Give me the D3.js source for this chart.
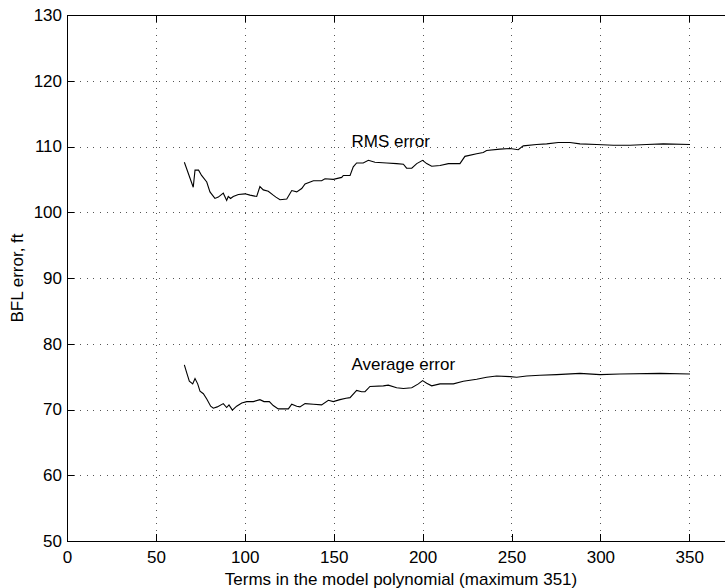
<!DOCTYPE html>
<html lang="en">
<head>
    <meta charset="UTF-8">
    <title>BFL error vs terms in the model polynomial</title>
    <script src="https://d3js.org/d3.v7.min.js"></script>
    <style>
        body {
            margin: 0;
            background-color: #fff;
            font-family: "Liberation Sans", Arial, Helvetica, sans-serif;
        }
        svg {
            display: block;
        }
        .axis text {
            font-size: 17px;
            fill: #000;
        }
        .axis path, .axis line {
            stroke: #000;
            shape-rendering: crispEdges;
        }
        .grid line {
            stroke: #555;
            stroke-dasharray: 1, 5.6;
            shape-rendering: crispEdges;
        }
        .curve {
            fill: none;
            stroke: #000;
            stroke-width: 1.1;
        }
        .label {
            font-size: 17px;
            fill: #000;
        }
    </style>
</head>
<body>
    <div id="chart"></div>

    <script>
        // Tick values (the x axis runs on to 400, past the right edge of the picture)
        const xTicks = [0, 50, 100, 150, 200, 250, 300, 350];
        const yTicks = [50, 60, 70, 80, 90, 100, 110, 120, 130];

        // RMS error curve (terms, error in ft)
        const rmsTerms = [66, 71, 72, 74, 75.7, 78.6, 80.4, 83.2, 85.1, 87.9, 89.8, 90.7, 92, 93.5, 96.4,
            100.1, 102.9, 106.7, 108.5, 110.4, 113.2, 116, 117.5, 119.8, 123.6, 126.4, 129.2, 132, 133.9,
            138.6, 143.2, 145.1, 149.8, 154.5, 155.4, 159.2, 161, 162.9, 166.6, 169.5, 173.2, 179.8, 185.4,
            189.2, 191, 193.9, 196.7, 200, 202.3, 205.1, 209.8, 214.5, 221, 223.8, 230.4, 234.1, 236, 243.5,
            249.2, 253.8, 256.6, 264.1, 269.8, 276.3, 282.9, 288.5, 297.9, 307.3, 316.7, 326, 335.4, 350.4];
        const rmsError = [107.6, 103.8, 106.4, 106.4, 105.6, 104.6, 103.1, 102.1, 102.3, 102.9, 101.8, 102.4, 102.1, 102.4, 102.7,
            102.8, 102.6, 102.4, 103.9, 103.4, 103.2, 102.6, 102.3, 101.9, 102.0, 103.3, 103.1, 103.6, 104.3,
            104.8, 104.8, 105.1, 105.0, 105.3, 105.6, 105.6, 106.9, 107.5, 107.5, 107.9, 107.6, 107.5, 107.4,
            107.3, 106.7, 106.7, 107.4, 107.9, 107.4, 107.0, 107.1, 107.4, 107.4, 108.5, 108.9, 109.1, 109.4, 109.6,
            109.7, 109.5, 110.1, 110.3, 110.4, 110.6, 110.6, 110.4, 110.3, 110.2, 110.2, 110.3, 110.4, 110.3];

        // Average error curve (terms, error in ft)
        const avgTerms = [66, 67.3, 68.8, 70.7, 72, 73.5, 74.8, 76.7, 78.6, 80.8, 82.3, 84.5, 87.9, 89.8, 91.1,
            93, 95.4, 98.3, 101.1, 104.8, 108.5, 110.8, 113.8, 116, 118.8, 124.5, 126.4, 129.2, 131, 133.9,
            138.6, 143.2, 147, 149.8, 153.5, 156.9, 159.2, 162.9, 165.7, 167.6, 170.4, 177.9, 180.7, 185.4,
            189.2, 193.9, 197.6, 200, 202.3, 205.1, 209.8, 217.3, 222.9, 230.4, 236, 241.6, 249.2, 252.9,
            258.5, 266, 275.4, 288.5, 299.8, 311, 333.5, 350.4];
        const avgError = [76.8, 75.6, 74.3, 73.9, 74.7, 73.9, 72.8, 72.4, 71.6, 70.5, 70.2, 70.4, 70.9, 70.3, 70.7,
            69.9, 70.5, 71.0, 71.2, 71.2, 71.5, 71.2, 71.2, 70.6, 70.1, 70.1, 70.8, 70.5, 70.4, 70.9,
            70.8, 70.7, 71.4, 71.2, 71.5, 71.7, 71.8, 72.9, 72.7, 72.7, 73.5, 73.6, 73.7, 73.3,
            73.2, 73.3, 73.9, 74.4, 74.0, 73.6, 73.9, 73.9, 74.3, 74.6, 74.9, 75.1, 75.0, 74.9,
            75.1, 75.2, 75.3, 75.5, 75.3, 75.4, 75.5, 75.4];

        // Curve labels
        const labels = [
            { text: "RMS error", x: 160, y: 110 },
            { text: "Average error", x: 160, y: 76 }
        ];

        // Canvas and plot box (right side of the box falls outside the picture)
        const W = 725, H = 588;
        const plotLeft = 67, plotTop = 15, plotBottom = 541;
        const plotRight = plotLeft + 400 * (622.3 / 350);

        const svg = d3.select("#chart")
            .append("svg")
            .attr("width", W)
            .attr("height", H);

        const x = d3.scaleLinear().domain([0, 400]).range([plotLeft, plotRight]);
        const y = d3.scaleLinear().domain([50, 130]).range([plotBottom, plotTop]);

        // Dotted grid
        const grid = svg.append("g").attr("class", "grid");
        grid.selectAll(".gx")
            .data(xTicks.slice(1))
            .enter().append("line")
            .attr("x1", d => Math.round(x(d)) + 0.5)
            .attr("x2", d => Math.round(x(d)) + 0.5)
            .attr("y1", plotTop)
            .attr("y2", plotBottom);
        grid.selectAll(".gy")
            .data(yTicks.slice(1, -1))
            .enter().append("line")
            .attr("x1", plotLeft)
            .attr("x2", W)
            .attr("y1", d => Math.round(y(d)) + 0.5)
            .attr("y2", d => Math.round(y(d)) + 0.5);

        // Axes, ticks pointing inward; domain lines run off the right edge
        const xAxis = svg.append("g")
            .attr("class", "axis")
            .attr("transform", `translate(0,${plotBottom})`)
            .call(d3.axisBottom(x).tickValues(xTicks).tickSizeInner(-7).tickSizeOuter(0).tickPadding(10));

        svg.append("g")
            .attr("class", "axis")
            .attr("transform", `translate(0,${plotTop})`)
            .call(d3.axisTop(x).tickValues(xTicks).tickSizeInner(-7).tickSizeOuter(0).tickFormat(""));

        svg.append("g")
            .attr("class", "axis")
            .attr("transform", `translate(${plotLeft},0)`)
            .call(d3.axisLeft(y).tickValues(yTicks).tickSizeInner(-7).tickSizeOuter(0).tickPadding(5));

        svg.selectAll(".axis").attr("font-family", null).attr("font-size", null);

        // Curves
        const line = d3.line()
            .x(d => x(d[0]))
            .y(d => y(d[1]));

        svg.append("path")
            .attr("class", "curve")
            .attr("d", line(d3.zip(rmsTerms, rmsError)));

        svg.append("path")
            .attr("class", "curve")
            .attr("d", line(d3.zip(avgTerms, avgError)));

        svg.selectAll(".curve-label")
            .data(labels)
            .enter().append("text")
            .attr("class", "label curve-label")
            .attr("x", d => x(d.x))
            .attr("y", d => y(d.y))
            .text(d => d.text);

        // Axis titles
        svg.append("text")
            .attr("class", "label")
            .attr("x", 401)
            .attr("y", 585)
            .attr("text-anchor", "middle")
            .text("Terms in the model polynomial (maximum 351)");

        svg.append("text")
            .attr("class", "label")
            .attr("transform", `translate(23,${(plotTop + plotBottom) / 2}) rotate(-90)`)
            .attr("text-anchor", "middle")
            .text("BFL error, ft");
    </script>
</body>
</html>
